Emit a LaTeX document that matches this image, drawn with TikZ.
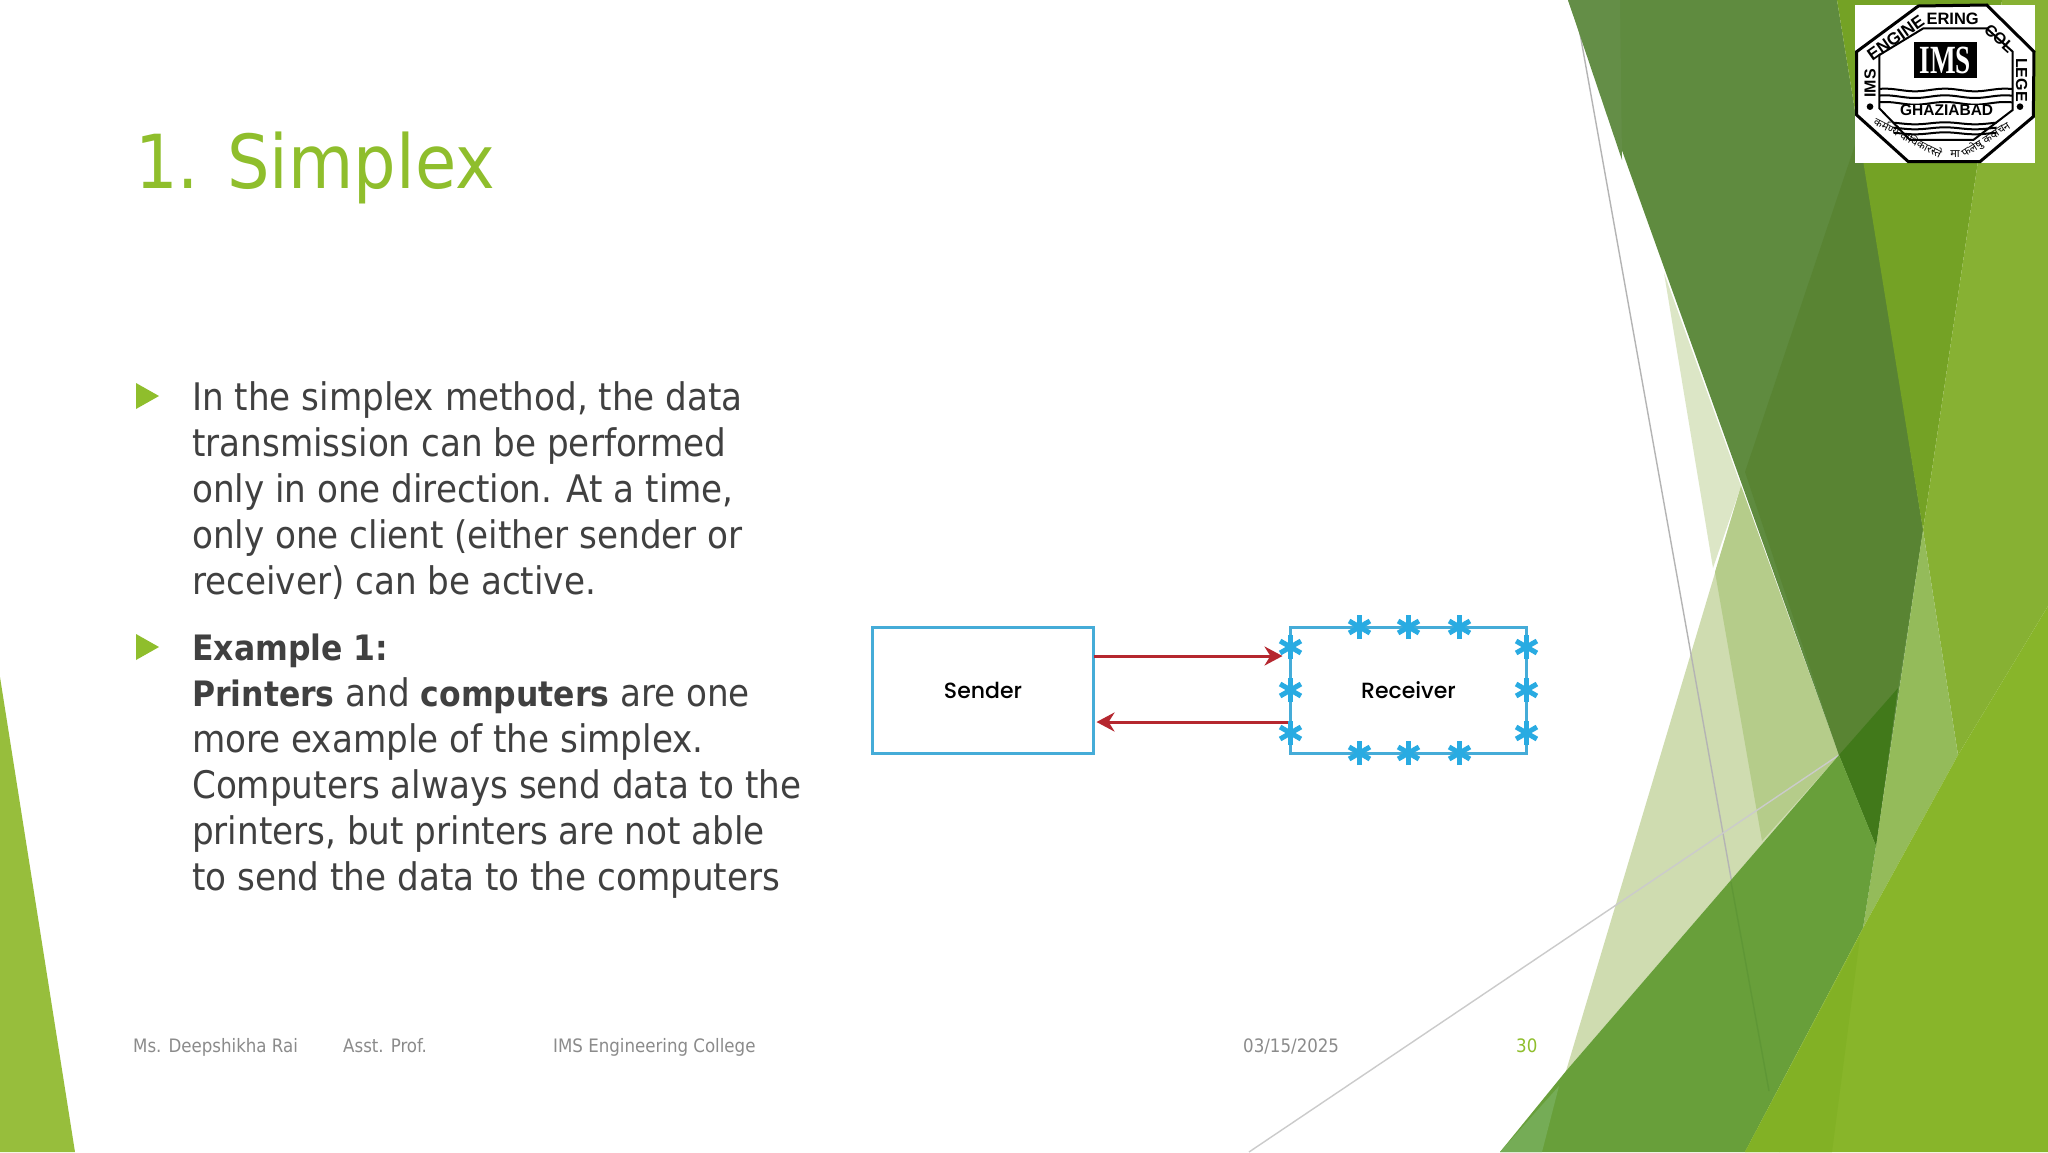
\documentclass[tikz,border=0pt]{standalone}
\usepackage{fontspec}
\setmainfont{DejaVu Sans Condensed}
\newfontfamily\boxfont{Poppins}[UprightFont=* Medium]
\newfontfamily\logofont{Liberation Sans}
\newfontfamily\imsfont{Liberation Serif}
\newfontfamily\hindifont[Script=Devanagari]{Noto Sans}
\usetikzlibrary{positioning,arrows.meta}
\definecolor{titlegreen}{HTML}{8FBE2C}
\definecolor{bodygrey}{HTML}{404040}
\definecolor{footgrey}{HTML}{8B8B8B}
\definecolor{boxblue}{HTML}{45ACD8}
\definecolor{starblue}{HTML}{29ABE2}
\definecolor{arrowred}{HTML}{B5272F}
\newcommand{\keyword}[1]{{\bfseries\fontsize{35}{46}\selectfont #1}}
\tikzset{
    facet/.code={\definecolor{facetfill}{HTML}{#1}\tikzset{fill=facetfill,draw=none}},
    rule/.code={\definecolor{rulecolor}{HTML}{#1}\tikzset{draw=rulecolor,line width=1.4pt}},
    bullet/.style={fill=titlegreen,draw=none},
    bodytext/.style={anchor=north west,inner sep=0pt,align=left,text=bodygrey,
        font=\fontsize{38}{46}\selectfont},
    foottext/.style={anchor=base west,inner sep=0pt,text=footgrey,font=\fontsize{18.5}{22}\selectfont},
    boxnode/.style={draw=boxblue,line width=3pt,inner sep=0pt,outer sep=0pt,
        font=\boxfont\fontsize{22}{26}\selectfont,text=black},
    dataline/.style={draw=arrowred,line width=3pt,-{Stealth[length=18pt,width=19pt]}},
    rxstar/.pic={
        \foreach \armangle in {90,30,-30}{
            \draw[starblue,line width=5pt] (\armangle:12) -- (\armangle+180:12);
        }
    },
    logoline/.style={draw=black,line width=2pt},
    logotext/.style={inner sep=0pt,text=black,font=\logofont\bfseries\fontsize{#1}{20}\selectfont},
    mottotext/.style={inner sep=0pt,text=black,font=\hindifont\fontsize{11}{12}\selectfont}
}
\begin{document}
\begin{tikzpicture}[x=1pt,y=-1pt]
    \useasboundingbox[fill=white] (0,0) rectangle (2048,1152);

    \fill[facet=97BE3C] (0,677) -- (75,1152) -- (0,1152) -- cycle;

    \fill[facet=CFDCB0] (1741,486) -- (1566,1071) -- (1839,755) -- cycle;
    \fill[facet=DCE6C6] (1664,273) -- (1713,568) -- (1741,486) -- cycle;
    \fill[facet=B5CC8A] (1741,486) -- (1715,572) -- (1762,841) -- (1839,755) -- cycle;

    \draw[rule=B4B4B4] (1574,0) -- (1780,1152);
    \draw[rule=CBCBCB] (1839,755) -- (1249,1152);

    \fill[facet=5F8B3F] (1568,0) -- (1837,0) -- (1923,530) -- (1876,846) -- (1839,755) -- cycle;
    \fill[facet=648E47] (1568,0) -- (1620,0) -- (1622,160) -- cycle;
    \fill[facet=598433] (1745,472) -- (1860,130) -- (1923,530) -- (1898,688) -- (1839,755) -- cycle;
    \fill[facet=74A225] (1837,0) -- (2002,0) -- (1923,530) -- cycle;
    \fill[facet=87B133] (2002,0) -- (2048,0) -- (2048,606) -- (1958,755) -- (1923,530) -- cycle;
    \fill[facet=94BB5A] (1923,530) -- (1958,755) -- (1863,928) -- (1876,846) -- cycle;
    \fill[facet=41791A] (1839,755) -- (1898,688) -- (1876,846) -- cycle;
    \fill[facet=689F3A] (1863,928) -- (1876,846) -- (1839,755) -- (1566,1071) -- (1500,1152) -- (1745,1152) -- cycle;
    \fill[facet=75AC56] (1500,1152) -- (1559,1086) -- (1542,1152) -- cycle;
    \draw[rule=5F9736] (1731,882) -- (1769,1091);
    \fill[facet=88B52A] (2048,606) -- (1958,755) -- (1863,928) -- (1745,1152) -- (2048,1152) -- cycle;
    \fill[facet=82B125] (1860,937) -- (1832,1152) -- (1745,1152) -- cycle;

    \node[anchor=west,inner sep=0pt,text=titlegreen,font=\fontsize{74.5}{80}\selectfont] (title) at (135,168) {1. Simplex};

    \fill[bullet] (136,383) -- (159,396) -- (136,409) -- cycle;
    \fill[bullet] (136,634) -- (159,647) -- (136,660) -- cycle;
    \node[bodytext] (simplexpara) at (192,381) {In the simplex method, the data\\
        transmission can be performed\\
        only in one direction. At a time,\\
        only one client (either sender or\\
        receiver) can be active.};
    \node[bodytext] (examplepara) at (192,634) {\keyword{Example 1:}\\
        \keyword{Printers} and \keyword{computers} are one\\
        more example of the simplex.\\
        Computers always send data to the\\
        printers, but printers are not able\\
        to send the data to the computers};

    \node[boxnode,minimum width=221pt,minimum height=126pt] (sender) at (983,690) {Sender};
    \node[boxnode,minimum width=236pt,minimum height=126pt,right=197pt of sender] (receiver) {Receiver};
    \draw[dataline] ([yshift=34pt]sender.east) -- ([yshift=34pt,xshift=-8pt]receiver.west);
    \draw[dataline] ([yshift=-32pt,xshift=-3pt]receiver.west) -- ([yshift=-32pt,xshift=3pt]sender.east);
    \foreach \starx in {-49,0,51}{
        \path ([xshift=\starx pt]receiver.north) pic {rxstar};
        \path ([xshift=\starx pt]receiver.south) pic {rxstar};
    }
    \foreach \stary in {43,0,-43}{
        \path ([yshift=\stary pt]receiver.west) pic {rxstar};
        \path ([yshift=\stary pt]receiver.east) pic {rxstar};
    }

    \node[foottext] (lecturer) at (133,1052) {Ms. Deepshikha Rai};
    \node[foottext] (rank) at (343,1052) {Asst. Prof.};
    \node[foottext] (college) at (553,1052) {IMS Engineering College};
    \node[foottext] (slidedate) at (1243,1052) {03/15/2025};
    \node[foottext,text=titlegreen] (slideno) at (1516,1052) {30};

    \begin{scope}[shift={(1840,0)},x=0.3333pt,y=-0.3333pt]
        \fill[white] (45,15) rectangle (585,490);
        \draw[logoline,line width=3pt] (235,18) -- (440,15) -- (582,155) -- (580,350) -- (420,485) -- (205,485) -- (50,345) -- (50,155) -- cycle;
        \draw[logoline] (250,85) -- (440,85) -- (518,155) -- (518,330) -- (400,420) -- (210,420) -- (118,325) -- (118,165) -- cycle;
        \fill[black] (222,125) rectangle (410,235);
        \node[inner sep=0pt,text=white,xscale=0.68,transform shape,font=\imsfont\bfseries\fontsize{40}{44}\selectfont] (imsmark) at (316,180) {IMS};
        \foreach \wavey in {270,290,310}{
            \draw[logoline] plot[domain=118:518,samples=40] (\x,{\wavey+4*sin(2*\x)});
        }
        \foreach \wavey in {370,385,400}{
            \draw[logoline] plot[domain=160:470,samples=40] (\x,{\wavey+3*sin(2*\x)});
        }
        \node[logotext=15.5,fill=white] (ghaziabad) at (320,330) {GHAZIABAD};
        \node[logotext=17,rotate=35] (engine) at (167,113) {ENGINE};
        \node[logotext=16.5] (ering) at (338,55) {ERING};
        \node[logotext=16,rotate=-42] (col) at (478,115) {COL};
        \node[logotext=16,rotate=-90] (lege) at (545,240) {LEGE};
        \node[logotext=16,rotate=90] (imsside) at (90,250) {IMS};
        \fill[black] (90,320) circle (10);
        \fill[black] (540,320) circle (10);
        \node[mottotext,rotate=-27] (mottoa) at (205,412) {कर्मण्ये वाधिकारस्ते};
        \node[mottotext] (mottob) at (345,462) {मा};
        \node[mottotext,rotate=33] (mottoc) at (438,420) {फलेषु कदाचन};
    \end{scope}
\end{tikzpicture}
\end{document}
